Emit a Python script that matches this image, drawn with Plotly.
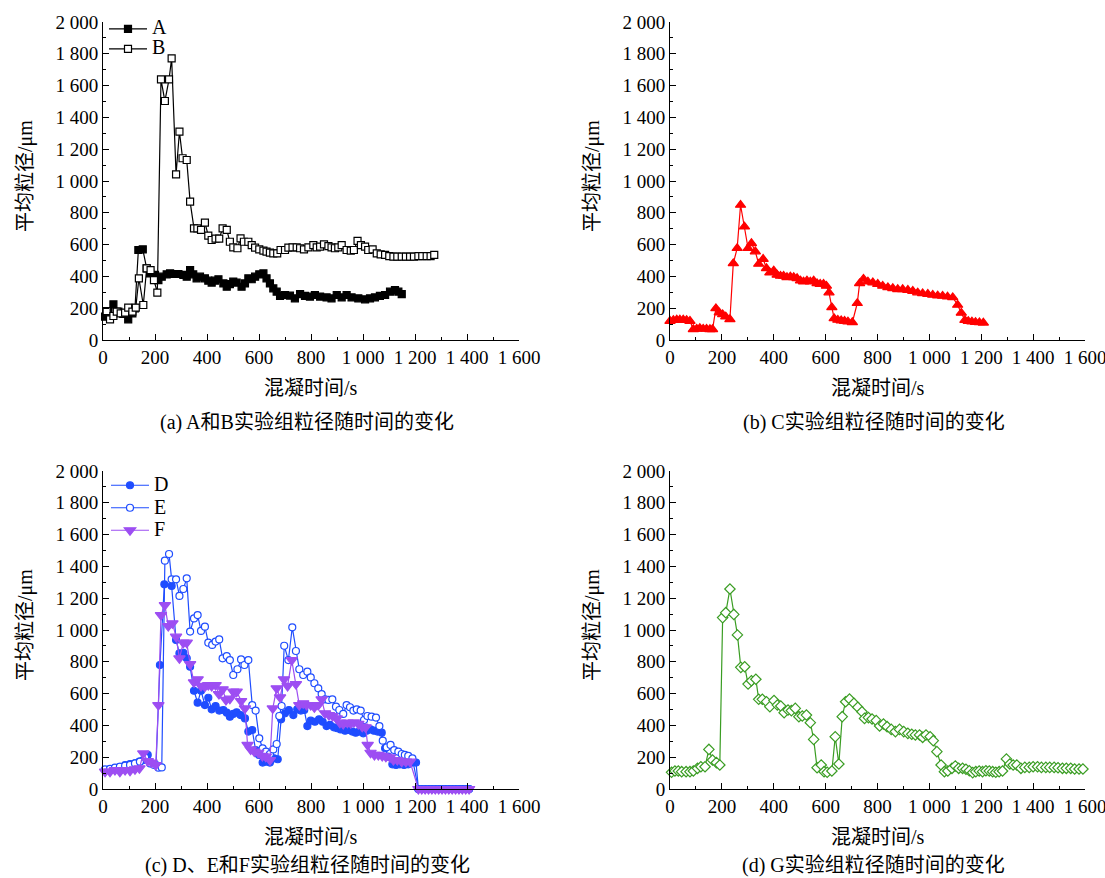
import plotly.graph_objects as go

# ---------------- data ----------------
# (a) group A
a_t = [8, 21, 40, 59, 78, 97, 113, 123, 136, 153, 168, 181, 200, 213, 226, 245, 258, 271, 290, 309,
       322, 335, 347, 360, 373, 392, 405, 418, 431, 444, 463, 476, 488, 501, 514, 533, 546, 559, 572, 585,
       601, 617, 629, 642, 655, 668, 681, 700, 719, 738, 758, 777, 796, 815, 835, 860, 879, 899, 918, 937,
       956, 982, 1008, 1027, 1046, 1065, 1085, 1104, 1123, 1136, 1149]
a_v = [147, 178, 224, 178, 164, 130, 168, 199, 566, 570, 451, 419, 409, 377, 398, 413, 419, 415, 415, 409,
       398, 440, 413, 388, 398, 388, 373, 361, 373, 382, 356, 335, 352, 367, 361, 335, 356, 388, 382, 398,
       413, 419, 388, 356, 325, 304, 277, 283, 279, 262, 289, 277, 273, 283, 273, 268, 262, 283, 268, 283,
       268, 262, 256, 262, 268, 277, 283, 304, 314, 304, 289]
# (a) group B
b_t = [14, 27, 40, 53, 68, 85, 97, 113, 126, 138, 155, 168, 183, 196, 209, 223, 238, 254, 264, 281,
       294, 306, 322, 335, 350, 363, 377, 392, 405, 418, 433, 447, 460, 476, 488, 501, 517, 529, 542, 559,
       572, 585, 601, 617, 629, 642, 655, 670, 683, 700, 713, 729, 745, 758, 773, 790, 809, 822, 835, 850,
       867, 879, 892, 905, 918, 937, 953, 965, 979, 992, 1008, 1020, 1037, 1053, 1068, 1085, 1101, 1117, 1132, 1149,
       1165, 1181, 1196, 1213, 1228, 1245, 1260, 1274]
b_v = [182, 130, 151, 178, 168, 172, 203, 178, 203, 388, 220, 451, 440, 377, 298, 1639, 1503, 1639, 1771, 1042,
       1310, 1143, 1132, 870, 702, 702, 692, 738, 656, 629, 637, 637, 702, 692, 618, 583, 577, 639, 618, 618,
       597, 581, 570, 562, 556, 549, 545, 545, 566, 566, 581, 583, 583, 577, 570, 583, 597, 583, 587, 602,
       591, 583, 577, 583, 597, 566, 562, 566, 623, 597, 587, 566, 570, 545, 539, 535, 528, 524, 524, 524,
       524, 524, 524, 528, 528, 528, 528, 535]
# (b) group C
c_t = [0, 13, 26, 38, 51, 64, 77, 90, 103, 115, 128, 141, 154, 164, 177, 190, 203, 215, 231, 244,
       259, 272, 287, 301, 314, 329, 342, 359, 372, 385, 400, 413, 426, 438, 451, 464, 477, 490, 503, 515,
       528, 541, 554, 567, 579, 592, 603, 613, 624, 633, 647, 660, 673, 686, 703, 722, 731, 746, 763, 782,
       801, 820, 840, 859, 878, 897, 917, 936, 955, 974, 994, 1013, 1032, 1051, 1070, 1090, 1109,
       1123, 1137, 1150, 1164, 1178, 1193, 1208]
c_v = [119, 125, 127, 127, 127, 125, 119, 67, 70, 74, 70, 70, 67, 67, 199, 172, 161, 147, 130, 482,
       577, 849, 713, 577, 608, 556, 478, 509, 451, 423, 436, 409, 403, 403, 394, 398, 394, 388, 373, 367,
       373, 367, 373, 356, 352, 352, 340, 298, 205, 136, 126, 122, 119, 115, 111, 231, 356, 384, 367, 361,
       352, 340, 331, 325, 319, 319, 314, 308, 298, 293, 289, 283, 279, 277, 272, 268, 220,
       170, 125, 118, 115, 112, 110, 108]
# (c) zero tail shared by D, E, F
zero_t = [1213, 1226, 1239, 1252, 1265, 1278, 1291, 1304, 1317, 1330, 1343, 1356, 1369, 1382, 1395, 1408]
zero_v = [0] * len(zero_t)
# (c) group D
d_t = [8, 27, 46, 65, 85, 104, 123, 140, 155, 172, 187, 204, 219, 236, 264, 281, 294, 309, 322, 335,
       350, 364, 377, 392, 405, 418, 433, 447, 463, 476, 488, 501, 514, 529, 546, 559, 574, 587, 600, 614,
       627, 642, 658, 672, 685, 700, 715, 732, 747, 761, 774, 786, 799, 815, 831, 845, 860, 873, 888, 901,
       914, 931, 944, 959, 972, 985, 1001, 1014, 1029, 1042, 1056, 1072, 1085, 1097, 1113, 1127, 1142, 1158,
       1174, 1190, 1204]
d_v = [119, 124, 130, 140, 151, 157, 161, 172, 182, 214, 161, 151, 780, 1287, 1277, 937, 853, 857, 822, 769,
       618, 543, 618, 528, 574, 501, 522, 493, 497, 480, 455, 472, 482, 465, 444, 361, 371, 245, 214, 166,
       172, 166, 193, 187, 438, 476, 497, 465, 501, 493, 497, 396, 430, 423, 438, 423, 396, 403, 388, 382,
       375, 367, 371, 361, 354, 361, 350, 367, 375, 367, 361, 354, 256, 203, 155, 151, 155, 151,
       155, 166, 166]
# (c) group E
e_t = [8, 27, 46, 65, 85, 104, 123, 142, 162, 181, 197, 213, 226, 238, 254, 264, 281, 294, 309, 322,
       335, 350, 364, 377, 392, 405, 420, 433, 447, 460, 476, 488, 501, 517, 531, 544, 559, 574, 587, 601,
       614, 627, 642, 655, 668, 678, 687, 697, 713, 728, 742, 755, 770, 786, 799, 813, 828, 841, 854, 867,
       882, 896, 909, 924, 937, 950, 963, 976, 991, 1004, 1017, 1033, 1050, 1063, 1076, 1091, 1106, 1120,
       1136, 1149, 1161, 1174, 1190]
e_v = [124, 126, 134, 140, 147, 151, 161, 172, 199, 161, 151, 134, 136, 1436, 1478, 1319, 1319, 1214, 1258, 1325,
       990, 1073, 1094, 994, 1021, 920, 906, 927, 941, 822, 836, 811, 717, 753, 815, 780, 811, 528, 493, 319,
       256, 235, 220, 249, 283, 459, 522, 901, 811, 1017, 868, 753, 717, 738, 702, 665, 633, 597, 564, 560,
       564, 518, 497, 472, 528, 514, 493, 501, 493, 434, 459, 455, 449, 396, 304, 262, 277, 245,
       235, 220, 214, 208, 193]
# (c) group F
f_t = [8, 27, 46, 65, 85, 104, 123, 140, 155, 172, 187, 203, 213, 223, 238, 251, 267, 281, 294, 309,
       322, 335, 350, 364, 377, 392, 405, 418, 433, 446, 460, 473, 488, 501, 514, 531, 546, 556, 568, 582,
       597, 613, 626, 642, 653, 668, 681, 696, 710, 726, 742, 755, 770, 783, 799, 813, 828, 841, 854, 869,
       883, 899, 911, 924, 940, 953, 965, 982, 997, 1010, 1018, 1029, 1044, 1059, 1074, 1088, 1104, 1117,
       1132, 1149, 1165, 1181]
f_v = [109, 109, 119, 109, 119, 115, 124, 130, 224, 176, 166, 151, 528, 1094, 1157, 1025, 1042, 958, 822, 920,
       920, 786, 671, 690, 648, 644, 654, 648, 654, 597, 627, 560, 568, 612, 612, 553, 507, 277, 249, 235,
       228, 208, 203, 182, 507, 633, 577, 690, 648, 811, 660, 528, 539, 528, 528, 514, 528, 564, 476, 465,
       459, 444, 417, 409, 417, 413, 419, 409, 392, 388, 277, 228, 214, 214, 208, 203, 199, 182,
       182, 172, 172, 172]
# (d) group G
g_t = [6, 19, 32, 45, 62, 77, 90, 106, 119, 135, 150, 164, 179, 192, 203, 215, 231, 246, 260, 273,
       288, 301, 314, 331, 342, 356, 372, 385, 401, 414, 427, 440, 455, 468, 483, 497, 510, 526, 541, 554,
       567, 583, 594, 606, 624, 637, 651, 664, 677, 692, 709, 724, 740, 750, 765, 779, 795, 808, 823, 837,
       853, 869, 885, 901, 917, 932, 946, 962, 974, 987, 1003, 1015, 1029, 1045, 1058, 1071, 1087, 1100, 1113, 1128,
       1141, 1154, 1167, 1179, 1192, 1205, 1218, 1231, 1244, 1256, 1269, 1282, 1297, 1310, 1323, 1337, 1353, 1368,
       1385, 1400, 1417, 1432, 1449, 1464, 1481, 1496, 1513, 1528, 1545, 1560, 1577, 1592, 1606]
g_v = [105, 113, 113, 109, 109, 109, 113, 130, 140, 140, 249, 182, 166, 151, 1078, 1109, 1258, 1098, 969, 765,
       769, 660, 681, 690, 564, 564, 549, 518, 556, 528, 522, 480, 497, 493, 507, 455, 459, 465, 417, 312,
       134, 151, 109, 105, 113, 329, 157, 455, 549, 566, 539, 514, 486, 444, 449, 440, 430, 396, 409, 392,
       375, 361, 375, 361, 350, 344, 340, 340, 325, 340, 329, 304, 235, 151, 109, 113, 130, 145, 130, 130,
       124, 115, 103, 109, 113, 109, 115, 113, 109, 105, 109, 113, 189, 157, 151, 151, 130, 136,
       136, 140, 140, 136, 136, 136, 136, 134, 130, 130, 130, 126, 126, 126, 124]

x_tickvals = [0, 200, 400, 600, 800, 1000, 1200, 1400, 1600]
x_ticktext = ["0", "200", "400", "600", "800", "1 000", "1 200", "1 400", "1 600"]
y_tickvals = [0, 200, 400, 600, 800, 1000, 1200, 1400, 1600, 1800, 2000]
y_ticktext = ["0", "200", "400", "600", "800", "1 000", "1 200", "1 400", "1 600", "1 800", "2 000"]

x_title = "混凝时间/s"
y_title = "平均粒径/μm"
captions = ["(a) A和B实验组粒径随时间的变化", "(b) C实验组粒径随时间的变化",
            "(c) D、E和F实验组粒径随时间的变化", "(d) G实验组粒径随时间的变化"]

# ---------------- figure ----------------
W, H = 1105, 878
FONT = "Liberation Serif, Noto Sans CJK SC"

fig = go.Figure()


def add(t, v, name, color, symbol, size, fill, xa, ya, legend="legend", show=False):
    label = "<span style='font-size:20px'>%s</span>" % name
    fig.add_trace(go.Scatter(
        x=t, y=v, name=label, mode="lines+markers",
        line=dict(color=color, width=1.2),
        marker=dict(symbol=symbol, size=size, color=fill,
                    line=dict(color=color, width=1.2)),
        xaxis=xa, yaxis=ya, cliponaxis=False,
        showlegend=show, legend=legend))


add(a_t, a_v, "A", "black", "square", 7, "black", "x", "y", "legend", True)
add(b_t, b_v, "B", "black", "square", 7, "white", "x", "y", "legend", True)
add(c_t, c_v, "C", "#ff0000", "triangle-up", 9, "#ff0000", "x2", "y2")
blue = "#1f4dff"
purple = "#9d4ef2"
add(d_t + zero_t, d_v + zero_v, "D", blue, "circle", 7, blue, "x3", "y3", "legend2", True)
add(e_t + zero_t, e_v + zero_v, "E", blue, "circle", 7, "white", "x3", "y3", "legend2", True)
add(f_t + zero_t, f_v + zero_v, "F", purple, "triangle-down", 10, purple, "x3", "y3", "legend2", True)
add(g_t, g_v, "G", "#3a9d23", "diamond", 8, "white", "x4", "y4")

# pixel geometry of the four panels (x0, x1, ytop, ybottom)
panels = [(103, 519, 22, 340), (670, 1085, 22, 340), (103, 519, 471, 789), (670, 1085, 471, 789)]

axis_common = dict(showline=True, linecolor="black", linewidth=1, mirror=False,
                   ticks="inside", ticklen=6, tickwidth=1, tickcolor="black",
                   showgrid=False, zeroline=False, automargin=False,
                   ticklabeloverflow="allow",
                   tickfont=dict(family="Liberation Serif", size=19, color="black"),
                   minor=dict(ticks="inside", ticklen=3, tickwidth=1, tickcolor="black",
                              dtick=100, tick0=0, showgrid=False))

layout = dict(width=W, height=H, margin=dict(l=0, r=0, t=0, b=0, autoexpand=False),
              paper_bgcolor="white", plot_bgcolor="white",
              font=dict(family=FONT, size=20, color="black"))

for i, (x0, x1, yt, yb) in enumerate(panels):
    sfx = "" if i == 0 else str(i + 1)
    layout["xaxis" + sfx] = dict(axis_common, domain=[x0 / W, x1 / W], range=[0, 1600],
                                 tickmode="array", tickvals=x_tickvals, ticktext=x_ticktext,
                                 anchor="y" + sfx)
    layout["yaxis" + sfx] = dict(axis_common, domain=[1 - yb / H, 1 - yt / H], range=[0, 2000],
                                 tickmode="array", tickvals=y_tickvals, ticktext=y_ticktext,
                                 anchor="x" + sfx)

layout["legend"] = dict(x=104 / W, y=1 - 14 / H, xanchor="left", yanchor="top",
                        bgcolor="rgba(0,0,0,0)", font=dict(family="Liberation Serif", size=13),
                        itemwidth=38, tracegroupgap=0)
layout["legend2"] = dict(x=106 / W, y=1 - 469 / H, xanchor="left", yanchor="top",
                         bgcolor="rgba(0,0,0,0)", font=dict(family="Liberation Serif", size=15),
                         itemwidth=38, tracegroupgap=0)

cap_gap = [82, 82, 76, 76]
ann = []
for i, (x0, x1, yt, yb) in enumerate(panels):
    cx = (x0 + x1) / 2
    ann.append(dict(text=x_title, x=cx / W, y=1 - (yb + 48) / H, xref="paper", yref="paper",
                    showarrow=False, xanchor="center", yanchor="middle",
                    font=dict(family=FONT, size=20)))
    ann.append(dict(text=captions[i], x=(cx - 4) / W, y=1 - (yb + cap_gap[i]) / H, xref="paper",
                    yref="paper", showarrow=False, xanchor="center", yanchor="middle",
                    font=dict(family=FONT, size=20)))
    ann.append(dict(text=y_title, x=(x0 - 78) / W, y=1 - ((yt + yb) / 2 - 5) / H, xref="paper",
                    yref="paper", showarrow=False, xanchor="center", yanchor="middle",
                    textangle=-90, font=dict(family=FONT, size=20)))
layout["annotations"] = ann

fig.update_layout(**layout)
fig.write_html("out.html")
